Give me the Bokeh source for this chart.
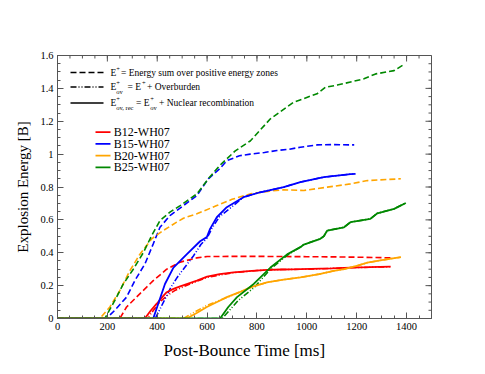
import math
from bokeh.plotting import figure
from bokeh.models import Range1d, FixedTicker, CustomJSTickFormatter
from bokeh.core.properties import value
from bokeh.embed import file_html
from bokeh.resources import INLINE

# ---------------- data ----------------
models = ["B12-WH07", "B15-WH07", "B20-WH07", "B25-WH07"]
colors = ["#ff0000", "#0000ff", "#ffa500", "#008800"]

# E+ (energy sum over positive energy zones) -- dashed
b12_pos_t = [0, 250, 277, 330, 384, 438, 492, 559, 600, 700, 800, 900, 1000, 1100, 1200, 1336]
b12_pos_e = [0, 0, 0.07, 0.15, 0.23, 0.30, 0.343, 0.369, 0.377, 0.378, 0.378, 0.377, 0.376, 0.375, 0.373, 0.369]
b15_pos_t = [0, 196, 230, 277, 310, 351, 384, 411, 451, 505, 559, 605, 650, 679, 730, 773, 830, 880, 930, 974, 1041, 1100, 1190]
b15_pos_e = [0, 0, 0.05, 0.13, 0.23, 0.333, 0.454, 0.555, 0.626, 0.687, 0.748, 0.85, 0.91, 0.96, 0.99, 1.0, 1.01, 1.022, 1.03, 1.042, 1.056, 1.058, 1.056]
b20_pos_t = [0, 170, 210, 250, 290, 330, 378, 424, 478, 505, 559, 639, 700, 773, 850, 907, 988, 1082, 1175, 1243, 1377]
b20_pos_e = [0, 0, 0.07, 0.17, 0.29, 0.39, 0.485, 0.535, 0.586, 0.61, 0.637, 0.687, 0.725, 0.758, 0.775, 0.783, 0.779, 0.799, 0.819, 0.839, 0.85]
b25_pos_t = [0, 190, 230, 264, 304, 344, 378, 411, 451, 492, 559, 605, 650, 713, 773, 854, 947, 1041, 1075, 1122, 1229, 1276, 1350, 1389]
b25_pos_e = [0, 0, 0.11, 0.21, 0.30, 0.40, 0.505, 0.596, 0.647, 0.687, 0.758, 0.85, 0.93, 1.02, 1.08, 1.215, 1.316, 1.367, 1.407, 1.42, 1.458, 1.488, 1.508, 1.545]

# E+_ov (with overburden) -- dash-dot-dot
b12_ov_t = [0, 360, 385, 410, 440, 470, 500, 540, 600, 700, 800, 900, 1000, 1100, 1200, 1336]
b12_ov_e = [0, 0, 0.05, 0.10, 0.14, 0.17, 0.19, 0.215, 0.25, 0.278, 0.292, 0.298, 0.30, 0.305, 0.31, 0.315]
b15_ov_t = [0, 392, 412, 435, 455, 480, 510, 545, 575, 600, 620, 650, 700, 746, 813, 907, 974, 1068, 1175, 1195]
b15_ov_e = [0, 0, 0.06, 0.13, 0.19, 0.25, 0.31, 0.38, 0.45, 0.49, 0.55, 0.62, 0.68, 0.738, 0.768, 0.799, 0.83, 0.86, 0.878, 0.88]
b20_ov_t = [0, 505, 550, 600, 650, 700, 760, 840, 900, 974, 1050, 1108, 1149, 1200, 1243, 1300, 1377]
b20_ov_e = [0, 0, 0.04, 0.08, 0.11, 0.14, 0.18, 0.22, 0.235, 0.25, 0.27, 0.29, 0.30, 0.32, 0.34, 0.355, 0.373]
b25_ov_t = [0, 660, 690, 725, 790, 854, 921, 974, 988, 1054, 1068, 1082, 1149, 1175, 1255, 1283, 1350, 1397]
b25_ov_e = [0, 0, 0.05, 0.11, 0.19, 0.30, 0.385, 0.434, 0.45, 0.485, 0.50, 0.535, 0.555, 0.586, 0.606, 0.64, 0.667, 0.703]

# E+_ov,rec (overburden + nuclear recombination) -- solid
b12_rec_t = [0, 350, 375, 398, 420, 438, 465, 492, 530, 559, 600, 650, 706, 780, 840, 900, 974, 1100, 1175, 1250, 1336]
b12_rec_e = [0, 0, 0.05, 0.09, 0.13, 0.16, 0.18, 0.195, 0.215, 0.23, 0.255, 0.27, 0.28, 0.29, 0.296, 0.298, 0.30, 0.305, 0.31, 0.312, 0.315]
b15_rec_t = [0, 384, 404, 431, 465, 518, 572, 599, 612, 639, 679, 746, 813, 907, 974, 1068, 1175, 1195]
b15_rec_e = [0, 0, 0.09, 0.21, 0.31, 0.39, 0.47, 0.495, 0.545, 0.616, 0.677, 0.738, 0.768, 0.799, 0.83, 0.86, 0.878, 0.88]
b20_rec_t = [0, 518, 560, 599, 640, 679, 730, 773, 840, 900, 974, 1050, 1108, 1149, 1200, 1243, 1300, 1377]
b20_rec_e = [0, 0, 0.035, 0.07, 0.10, 0.13, 0.16, 0.19, 0.22, 0.235, 0.25, 0.27, 0.29, 0.30, 0.32, 0.34, 0.355, 0.373]
b25_rec_t = [0, 652, 685, 720, 787, 854, 921, 974, 988, 1054, 1068, 1082, 1149, 1175, 1255, 1283, 1350, 1397]
b25_rec_e = [0, 0, 0.07, 0.13, 0.21, 0.31, 0.39, 0.434, 0.45, 0.485, 0.50, 0.535, 0.555, 0.586, 0.606, 0.64, 0.667, 0.703]

x_ticks = [0, 200, 400, 600, 800, 1000, 1200, 1400]
y_ticks = [0, 0.2, 0.4, 0.6, 0.8, 1.0, 1.2, 1.4, 1.6]

pos_series = [(b12_pos_t, b12_pos_e), (b15_pos_t, b15_pos_e), (b20_pos_t, b20_pos_e), (b25_pos_t, b25_pos_e)]
ov_series = [(b12_ov_t, b12_ov_e), (b15_ov_t, b15_ov_e), (b20_ov_t, b20_ov_e), (b25_ov_t, b25_ov_e)]
rec_series = [(b12_rec_t, b12_rec_e), (b15_rec_t, b15_rec_e), (b20_rec_t, b20_rec_e), (b25_rec_t, b25_rec_e)]

# ---------------- styles ----------------
FONT = "Liberation Serif"
DASH = "6 3"
DASHDOT = "6 2 1 2 1 2"
AX_COL = "#555555"
XMAX, YMAX = 1500, 1.6
x_minor = list(range(0, XMAX + 1, 50))
y_minor = [round(i * 0.05, 2) for i in range(33)]

p = figure(width=477, height=366, x_range=Range1d(0, XMAX), y_range=Range1d(0, YMAX),
           output_backend="svg", toolbar_location=None, tools="")
p.min_border_left = 57
p.min_border_right = 46
p.min_border_top = 55
p.min_border_bottom = 48
p.xgrid.visible = False
p.ygrid.visible = False
p.outline_line_color = AX_COL
p.background_fill_color = "white"
p.border_fill_color = "white"

for (t, e), c in zip(pos_series, colors):
    p.line(t, e, line_color=c, line_width=1.6, line_dash=DASH)
for (t, e), c in zip(ov_series, colors):
    p.line(t, e, line_color=c, line_width=1.6, line_dash=DASHDOT)
for (t, e), c in zip(rec_series, colors):
    p.line(t, e, line_color=c, line_width=1.8)

# bottom / left axes
for ax in (p.xaxis[0], p.yaxis[0]):
    ax.axis_line_color = AX_COL
    ax.major_tick_line_color = AX_COL
    ax.minor_tick_line_color = AX_COL
    ax.major_tick_in = 6
    ax.major_tick_out = 0
    ax.minor_tick_in = 3
    ax.minor_tick_out = 0
    ax.major_label_text_font = FONT
    ax.major_label_text_color = "black"
    ax.major_label_text_font_size = "10.5px"
    ax.major_label_standoff = 4

p.xaxis.ticker = FixedTicker(ticks=x_ticks, minor_ticks=x_minor)
p.yaxis.ticker = FixedTicker(ticks=y_ticks, minor_ticks=y_minor)
p.yaxis.formatter = CustomJSTickFormatter(code="return tick.toFixed(1).replace(/\\.0$/, '');")
p.xaxis.axis_label = "Post-Bounce Time [ms]"
p.yaxis.axis_label = "Explosion Energy [B]"
for ax, sz, so in ((p.xaxis[0], "17px", 8), (p.yaxis[0], "15px", 6)):
    ax.axis_label_text_font = FONT
    ax.axis_label_text_font_size = sz
    ax.axis_label_text_font_style = "normal"
    ax.axis_label_text_color = "black"
    ax.axis_label_standoff = so

# mirrored ticks on top and right (inward), drawn as screen-length rays
p.ray(x=x_ticks, y=[YMAX] * len(x_ticks), length=6, angle=-math.pi / 2,
      length_units="screen", line_color=AX_COL, line_width=1)
p.ray(x=x_minor, y=[YMAX] * len(x_minor), length=3, angle=-math.pi / 2,
      length_units="screen", line_color=AX_COL, line_width=1)
p.ray(x=[XMAX] * len(y_ticks), y=y_ticks, length=6, angle=math.pi,
      length_units="screen", line_color=AX_COL, line_width=1)
p.ray(x=[XMAX] * len(y_minor), y=y_minor, length=3, angle=math.pi,
      length_units="screen", line_color=AX_COL, line_width=1)

# ---------------- legend (layout in page pixels -> data) ----------------
FL, FR, FT, FB = 57.0, 431.0, 55.0, 318.0
def dx(px):
    return (px - FL) / (FR - FL) * XMAX
def dy(py):
    return (FB - py) / (FB - FT) * YMAX

style_rows = [(72.0, DASH), (86.5, DASHDOT), (102.5, None)]
for ry, dash in style_rows:
    kw = dict(line_dash=dash) if dash else {}
    p.line([dx(70), dx(103)], [dy(ry), dy(ry)], line_color="black", line_width=1.6, **kw)

def txt(px, py, s, size):
    p.text(x=[dx(px)], y=[dy(py)], text=[s], text_font=value(FONT), text_font_size=size,
           text_baseline="middle", text_align="left", text_color="black")

MAIN, SUP = "9.5px", "6.5px"
txt(110, 72.0, "E", MAIN); txt(115.7, 68.0, "+", SUP)
txt(120.5, 72.0, "= Energy sum over positive energy zones", MAIN)
txt(110, 86.5, "E", MAIN); txt(115.7, 82.5, "+", SUP); txt(115.7, 91.3, "ov", SUP)
txt(127.0, 86.5, "= E", MAIN); txt(141.5, 82.5, "+", SUP)
txt(146.5, 86.5, "+ Overburden", MAIN)
txt(110, 102.5, "E", MAIN); txt(115.7, 98.5, "+", SUP); txt(115.7, 107.3, "ov, rec", SUP)
txt(135.5, 102.5, "= E", MAIN); txt(149.8, 98.5, "+", SUP); txt(149.8, 107.3, "ov", SUP)
txt(158.5, 102.5, "+ Nuclear recombination", MAIN)

model_rows = [131.7, 143.4, 155.1, 166.8]
for ry, name, c in zip(model_rows, models, colors):
    p.line([dx(95), dx(110)], [dy(ry), dy(ry)], line_color=c, line_width=1.8)
    p.text(x=[dx(113.3)], y=[dy(ry)], text=[name], text_font=value(FONT), text_font_size="12px",
           text_baseline="middle", text_align="left", text_color="black")

open("out.html", "w").write(file_html(p, INLINE))
